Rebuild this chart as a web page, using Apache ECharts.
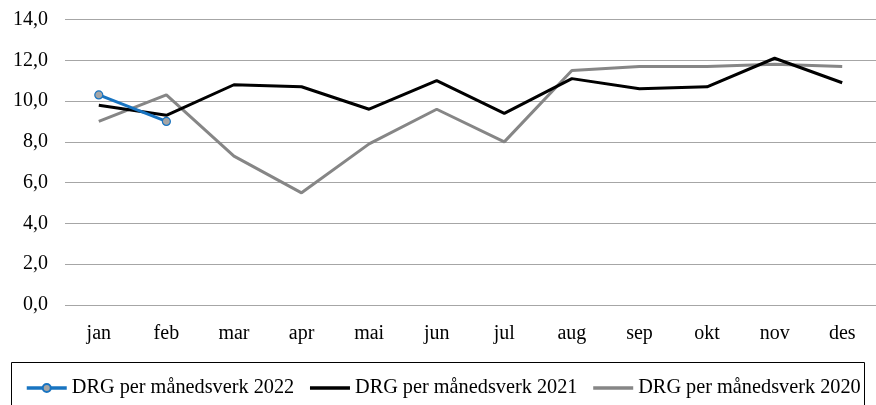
<!DOCTYPE html>
<html>
<head>
<meta charset="utf-8">
<script src="https://cdn.jsdelivr.net/npm/echarts@6/dist/echarts.min.js"></script>
<style>
  html, body { margin: 0; padding: 0; background: #fff; }
  #chart { width: 876px; height: 405px; }
</style>
</head>
<body>
<div id="chart"></div>
<script>
// Months on the category axis
const months = ['jan', 'feb', 'mar', 'apr', 'mai', 'jun', 'jul', 'aug', 'sep', 'okt', 'nov', 'des'];

// DRG per månedsverk by year
const drg2022 = [10.3, 9.0];
const drg2021 = [9.8, 9.3, 10.8, 10.7, 9.6, 11.0, 9.4, 11.1, 10.6, 10.7, 12.1, 10.9];
const drg2020 = [9.0, 10.3, 7.3, 5.5, 7.9, 9.6, 8.0, 11.5, 11.7, 11.7, 11.8, 11.7];

// Value axis range
const yMin = 0;
const yMax = 14;
const yStep = 2;

const FONT = 'Liberation Serif';

// Legend entries for the plain lines: hide the marker dot, keep the stroke
const noMarker = { color: 'rgba(0,0,0,0)', borderColor: 'rgba(0,0,0,0)', borderWidth: 0 };

const chart = echarts.init(document.getElementById('chart'), null, { renderer: 'canvas' });

chart.setOption({
  animation: false,
  backgroundColor: '#ffffff',
  textStyle: { fontFamily: FONT },
  grid: { left: 65, right: -3, top: 19.5, bottom: 100, containLabel: false },
  graphic: [{
    type: 'rect',
    shape: { x: 11.5, y: 362.5, width: 853, height: 60 },
    style: { fill: 'none', stroke: '#000', lineWidth: 1 },
    silent: true,
    z: 0
  }],
  legend: {
    left: 25,
    top: 378,
    itemWidth: 40,
    itemHeight: 10,
    itemGap: 14,
    padding: 0,
    lineStyle: { width: 3.5 },
    textStyle: { fontFamily: FONT, fontSize: 20.3, color: '#000' },
    data: [
      { name: 'DRG per månedsverk 2022' },
      { name: 'DRG per månedsverk 2021', itemStyle: noMarker },
      { name: 'DRG per månedsverk 2020', itemStyle: noMarker }
    ]
  },
  xAxis: {
    type: 'category',
    data: months,
    boundaryGap: true,
    axisLine: { show: false },
    axisTick: { show: false },
    axisLabel: { color: '#000', fontFamily: FONT, fontSize: 20, margin: 19 }
  },
  yAxis: {
    type: 'value',
    min: yMin,
    max: yMax,
    interval: yStep,
    axisLine: { show: false },
    axisTick: { show: false },
    splitLine: { lineStyle: { color: '#a6a6a6', width: 1.2 } },
    axisLabel: {
      color: '#000',
      fontFamily: FONT,
      fontSize: 20,
      margin: 17,
      formatter: v => v.toFixed(1).replace('.', ',')
    }
  },
  series: [
    {
      name: 'DRG per månedsverk 2020',
      type: 'line',
      data: drg2020,
      symbol: 'none',
      lineStyle: { color: '#868686', width: 3 },
      itemStyle: { color: '#868686' },
      z: 2
    },
    {
      name: 'DRG per månedsverk 2021',
      type: 'line',
      data: drg2021,
      symbol: 'none',
      lineStyle: { color: '#000000', width: 3 },
      itemStyle: { color: '#000000' },
      z: 3
    },
    {
      name: 'DRG per månedsverk 2022',
      type: 'line',
      data: drg2022,
      symbol: 'circle',
      symbolSize: 8,
      showSymbol: true,
      lineStyle: { color: '#1874c1', width: 3 },
      itemStyle: { color: '#a5a5a5', borderColor: '#1874c1', borderWidth: 1.2 },
      z: 4
    }
  ]
});
</script>
</body>
</html>
